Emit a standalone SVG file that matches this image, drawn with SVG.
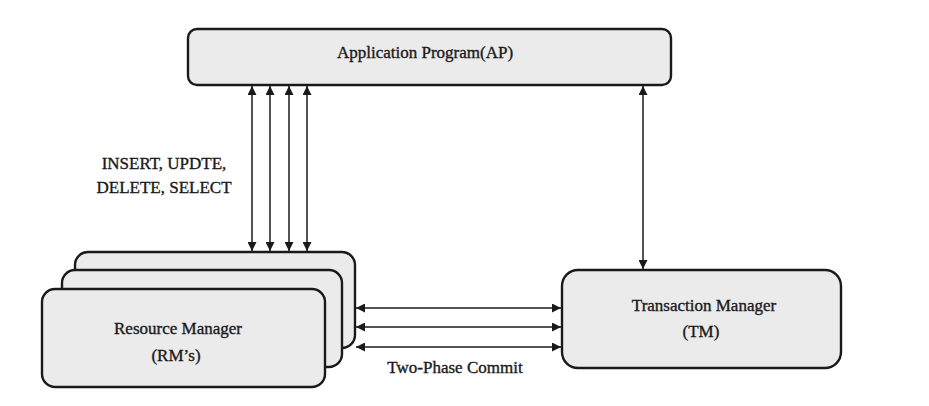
<svg xmlns="http://www.w3.org/2000/svg" width="929" height="406" viewBox="0 0 929 406">
<style>
.box{fill:#ebebeb;stroke:#1a1a1a;stroke-width:2.4}
.lbl{font-family:"Liberation Serif","Times New Roman",serif;font-size:17px;fill:#1a1a1a;stroke:#1a1a1a;stroke-width:0.35;text-anchor:middle}
.conn{stroke:#1a1a1a;stroke-width:1.5;fill:none;marker-start:url(#ah);marker-end:url(#ah)}
</style>
<defs>
<marker id="ah" viewBox="0 0 10 10" refX="10" refY="5" markerWidth="11" markerHeight="9" markerUnits="userSpaceOnUse" orient="auto-start-reverse">
<path d="M0,0 L10,5 L0,10 z" fill="#1a1a1a"/>
</marker>
</defs>
<rect width="929" height="406" fill="#ffffff"/>
<g id="ap">
<rect class="box" x="188" y="29" width="483" height="56" rx="9"/>
<text class="lbl" x="425" y="58">Application Program(AP)</text>
</g>
<g id="rm">
<rect class="box" x="75" y="252" width="280" height="96" rx="13"/>
<rect class="box" x="62" y="270" width="280" height="97" rx="13"/>
<rect class="box" x="42" y="289" width="283" height="98" rx="13"/>
<text class="lbl" x="178" y="334">Resource Manager</text>
<text class="lbl" x="176" y="361">(RM’s)</text>
</g>
<g id="tm">
<rect class="box" x="562" y="270" width="279" height="98" rx="16"/>
<text class="lbl" x="704" y="311">Transaction Manager</text>
<text class="lbl" x="701" y="337">(TM)</text>
</g>
<g id="connectors">
<line class="conn" x1="252" y1="86" x2="252" y2="251"/>
<line class="conn" x1="270" y1="86" x2="270" y2="251"/>
<line class="conn" x1="289" y1="86" x2="289" y2="251"/>
<line class="conn" x1="307" y1="86" x2="307" y2="251"/>
<line class="conn" x1="643" y1="86" x2="643" y2="269"/>
<line class="conn" x1="356" y1="308" x2="561" y2="308"/>
<line class="conn" x1="356" y1="327" x2="561" y2="327"/>
<line class="conn" x1="356" y1="347" x2="561" y2="347"/>
</g>
<g id="labels">
<text class="lbl" x="164" y="169">INSERT, UPDTE,</text>
<text class="lbl" x="164" y="193">DELETE, SELECT</text>
<text class="lbl" x="455" y="373">Two-Phase Commit</text>
</g>
</svg>
